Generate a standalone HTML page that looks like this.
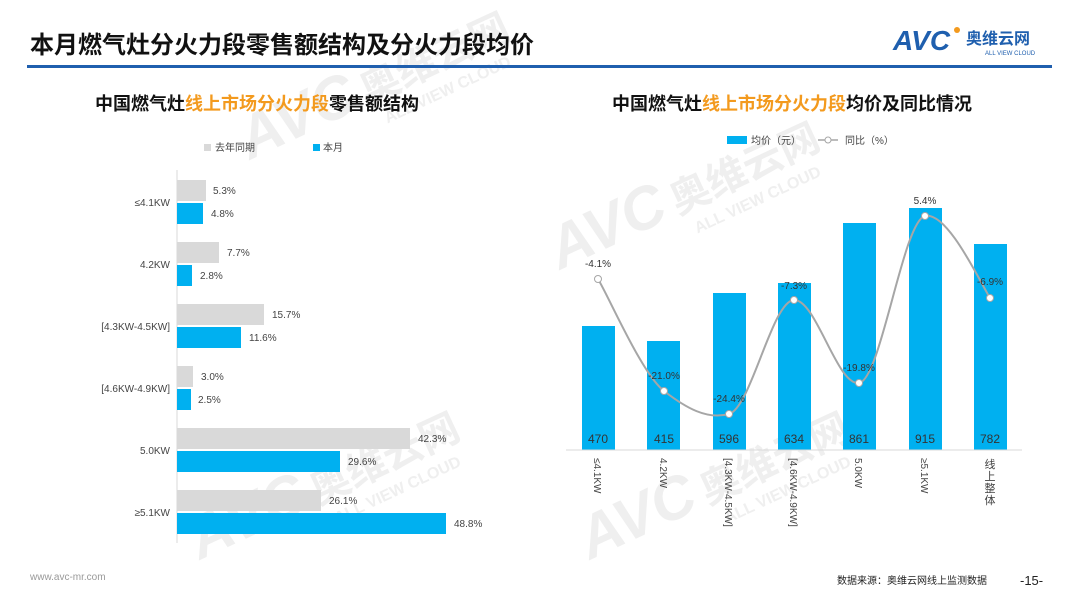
<!DOCTYPE html>
<html><head><meta charset="utf-8"><style>
body{margin:0;width:1080px;height:608px;background:#fff;overflow:hidden;font-family:"Liberation Sans","Noto Sans CJK SC",sans-serif}
svg text{font-family:"Liberation Sans","Noto Sans CJK SC",sans-serif}
</style></head><body>
<svg width="1080" height="608" viewBox="0 0 1080 608" xmlns="http://www.w3.org/2000/svg">
<!-- watermarks -->
<g fill="#efefef" font-weight="bold">
<g transform="translate(250,160) rotate(-25)"><text x="0" y="0" font-size="60" font-style="italic">AVC</text><text x="130" y="0" font-size="40">奥维云网</text><text x="140" y="25" font-size="16">ALL VIEW CLOUD</text></g>
<g transform="translate(560,270) rotate(-25)"><text x="0" y="0" font-size="60" font-style="italic">AVC</text><text x="130" y="0" font-size="40">奥维云网</text><text x="140" y="25" font-size="16">ALL VIEW CLOUD</text></g>
<g transform="translate(200,560) rotate(-25)"><text x="0" y="0" font-size="60" font-style="italic">AVC</text><text x="130" y="0" font-size="40">奥维云网</text><text x="140" y="25" font-size="16">ALL VIEW CLOUD</text></g>
<g transform="translate(590,560) rotate(-25)"><text x="0" y="0" font-size="60" font-style="italic">AVC</text><text x="130" y="0" font-size="40">奥维云网</text><text x="140" y="25" font-size="16">ALL VIEW CLOUD</text></g>
</g>
<!-- header -->
<text x="30" y="53" font-size="24" font-weight="bold" fill="#111">本月燃气灶分火力段零售额结构及分火力段均价</text>
<rect x="27" y="65" width="1025" height="3" fill="#1f5fae"/>
<text x="893" y="50" font-size="28" font-weight="bold" font-style="italic" fill="#1f5fae">AVC</text>
<circle cx="957" cy="30" r="3" fill="#f39a1e"/>
<text x="966" y="44" font-size="16" font-weight="bold" fill="#1f5fae">奥维云网</text>
<text x="985" y="55" font-size="6" fill="#1f5fae">ALL VIEW CLOUD</text>
<!-- subtitles -->
<text x="95" y="110" font-size="18" font-weight="bold" fill="#111">中国燃气灶<tspan fill="#f39a1e">线上市场分火力段</tspan>零售额结构</text>
<text x="612" y="110" font-size="18" font-weight="bold" fill="#111">中国燃气灶<tspan fill="#f39a1e">线上市场分火力段</tspan>均价及同比情况</text>
<!-- left legend -->
<rect x="204" y="144" width="7" height="7" fill="#d9d9d9"/><text x="215" y="151" font-size="10" fill="#444">去年同期</text>
<rect x="313" y="144" width="7" height="7" fill="#00b0f0"/><text x="323" y="151" font-size="10" fill="#444">本月</text>
<!-- left chart -->
<line x1="177" y1="170" x2="177" y2="543" stroke="#d9d9d9"/>
<g font-size="10" fill="#444">
<rect x="177" y="180" width="29" height="21" fill="#d9d9d9"/><rect x="177" y="203" width="26" height="21" fill="#00b0f0"/>
<text x="213" y="194">5.3%</text><text x="211" y="217">4.8%</text><text x="170" y="206" text-anchor="end">≤4.1KW</text>
<rect x="177" y="242" width="42" height="21" fill="#d9d9d9"/><rect x="177" y="265" width="15" height="21" fill="#00b0f0"/>
<text x="227" y="256">7.7%</text><text x="200" y="279">2.8%</text><text x="170" y="268" text-anchor="end">4.2KW</text>
<rect x="177" y="304" width="87" height="21" fill="#d9d9d9"/><rect x="177" y="327" width="64" height="21" fill="#00b0f0"/>
<text x="272" y="318">15.7%</text><text x="249" y="341">11.6%</text><text x="170" y="330" text-anchor="end">[4.3KW-4.5KW]</text>
<rect x="177" y="366" width="16" height="21" fill="#d9d9d9"/><rect x="177" y="389" width="14" height="21" fill="#00b0f0"/>
<text x="201" y="380">3.0%</text><text x="198" y="403">2.5%</text><text x="170" y="392" text-anchor="end">[4.6KW-4.9KW]</text>
<rect x="177" y="428" width="233" height="21" fill="#d9d9d9"/><rect x="177" y="451" width="163" height="21" fill="#00b0f0"/>
<text x="418" y="442">42.3%</text><text x="348" y="465">29.6%</text><text x="170" y="454" text-anchor="end">5.0KW</text>
<rect x="177" y="490" width="144" height="21" fill="#d9d9d9"/><rect x="177" y="513" width="269" height="21" fill="#00b0f0"/>
<text x="329" y="504">26.1%</text><text x="454" y="527">48.8%</text><text x="170" y="516" text-anchor="end">≥5.1KW</text>
</g>
<!-- right legend -->
<rect x="727" y="136" width="20" height="8" fill="#00b0f0"/><text x="751" y="144" font-size="10" fill="#444">均价（元）</text>
<line x1="818" y1="140" x2="838" y2="140" stroke="#a6a6a6" stroke-width="1.5"/><circle cx="828" cy="140" r="3" fill="#fff" stroke="#a6a6a6"/>
<text x="845" y="144" font-size="10" fill="#444">同比（%）</text>
<!-- right bars -->
<g fill="#00b0f0">
<rect x="582" y="326" width="33" height="124"/>
<rect x="647" y="341" width="33" height="109"/>
<rect x="713" y="293" width="33" height="157"/>
<rect x="778" y="283" width="33" height="167"/>
<rect x="843" y="223" width="33" height="227"/>
<rect x="909" y="208" width="33" height="242"/>
<rect x="974" y="244" width="33" height="206"/>
</g>
<line x1="566" y1="450" x2="1022" y2="450" stroke="#d9d9d9"/>
<g font-size="12" fill="#333" text-anchor="middle">
<text x="598" y="443">470</text><text x="664" y="443">415</text><text x="729" y="443">596</text><text x="794" y="443">634</text><text x="859" y="443">861</text><text x="925" y="443">915</text><text x="990" y="443">782</text>
</g>
<!-- line -->
<path d="M598,279 C609,297 642,374 664,391 C686,408 707,420 729,414 C751,408 772,301 794,300 C816,299 837,386 859,383 C881,380 903,221 925,216 C947,211 979,280 990,298" fill="none" stroke="#a6a6a6" stroke-width="2"/>
<g fill="#fff" stroke="#a6a6a6" stroke-width="1">
<circle cx="598" cy="279" r="3.5"/><circle cx="664" cy="391" r="3.5"/><circle cx="729" cy="414" r="3.5"/><circle cx="794" cy="300" r="3.5"/><circle cx="859" cy="383" r="3.5"/><circle cx="925" cy="216" r="3.5"/><circle cx="990" cy="298" r="3.5"/>
</g>
<g font-size="10" fill="#333" text-anchor="middle">
<text x="598" y="267">-4.1%</text><text x="664" y="379">-21.0%</text><text x="729" y="402">-24.4%</text><text x="794" y="289">-7.3%</text><text x="859" y="371">-19.8%</text><text x="925" y="204">5.4%</text><text x="990" y="285">-6.9%</text>
</g>
<g font-size="10" fill="#444">
<text transform="translate(594,458) rotate(90)">≤4.1KW</text>
<text transform="translate(660,458) rotate(90)">4.2KW</text>
<text transform="translate(725,458) rotate(90)">[4.3KW-4.5KW]</text>
<text transform="translate(790,458) rotate(90)">[4.6KW-4.9KW]</text>
<text transform="translate(855,458) rotate(90)">5.0KW</text>
<text transform="translate(921,458) rotate(90)">≥5.1KW</text>
</g>
<g font-size="11" fill="#444" text-anchor="middle">
<text x="990" y="468">线</text><text x="990" y="480">上</text><text x="990" y="492">整</text><text x="990" y="504">体</text>
</g>
<!-- footer -->
<text x="30" y="580" font-size="10" fill="#999">www.avc-mr.com</text>
<text x="837" y="584" font-size="10" fill="#222">数据来源：奥维云网线上监测数据</text>
<text x="1020" y="585" font-size="13" fill="#222">-15-</text>
</svg>
</body></html>
